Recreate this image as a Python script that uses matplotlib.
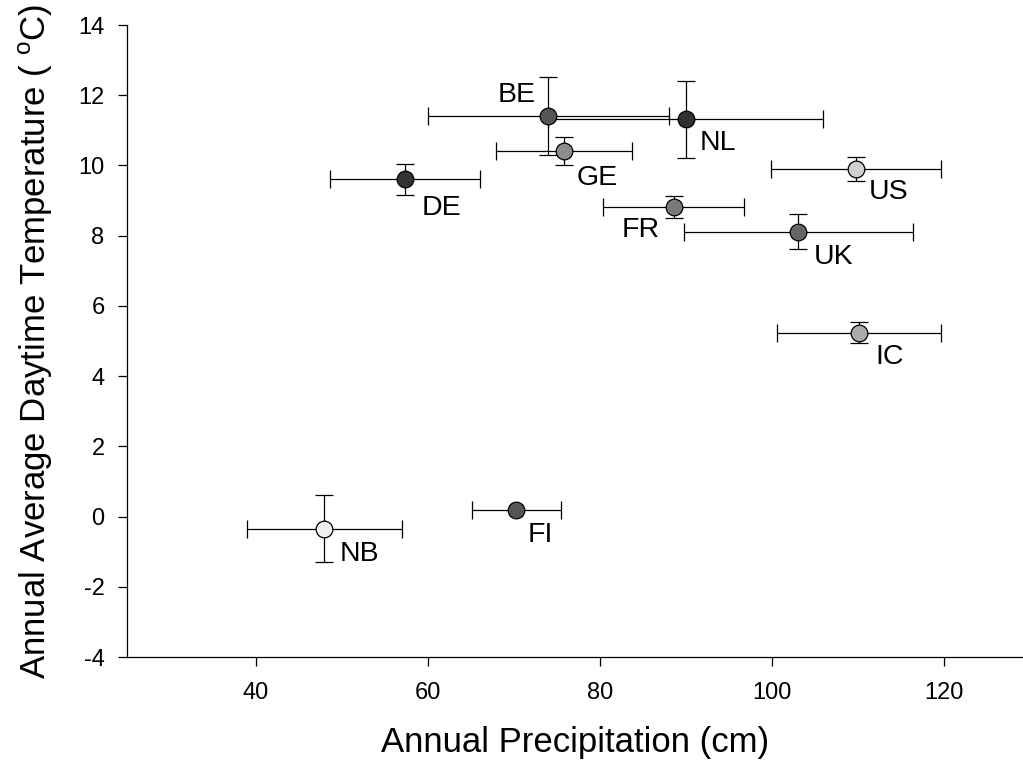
import matplotlib
matplotlib.use("Agg")
import matplotlib.pyplot as plt

plt.rcParams['font.family'] = ['Liberation Sans', 'DejaVu Sans']
plt.rcParams['mathtext.fontset'] = 'custom'
plt.rcParams['mathtext.rm'] = 'Liberation Sans'
plt.rcParams['axes.unicode_minus'] = False

countries = ["NB", "FI", "DE", "BE", "NL", "GE", "FR", "US", "UK", "IC"]
precip = [48.0, 70.3, 57.4, 74.0, 90.0, 75.9, 88.6, 109.8, 103.1, 110.1]
precip_err = [9.0, 5.2, 8.7, 14.0, 16.0, 7.9, 8.2, 9.85, 13.3, 9.55]
temp = [-0.35, 0.19, 9.61, 11.41, 11.31, 10.42, 8.81, 9.89, 8.11, 5.23]
temp_err = [0.95, 0.0, 0.44, 1.1, 1.1, 0.4, 0.31, 0.34, 0.5, 0.3]
colors = ["#f0f0f0", "#555555", "#333333", "#555555", "#303030",
          "#8c8c8c", "#7a7a7a", "#d0d0d0", "#666666", "#aaaaaa"]
# label offsets (points) and horizontal alignment
offsets = [(11, -18), (8, -18), (12, -21), (-9, 15), (10, -17),
           (9, -19.5), (-10, -16.5), (9, -16.5), (11, -18), (12, -17)]
aligns = ["left", "left", "left", "right", "left",
          "left", "right", "left", "left", "left"]

xticks = [40, 60, 80, 100, 120]
yticks = [-4, -2, 0, 2, 4, 6, 8, 10, 12, 14]

fig = plt.figure(figsize=(10.23, 7.70), dpi=100)
ax = fig.add_axes([126.5 / 1023, 1 - 657 / 770, 1 - 126.5 / 1023, (657 - 25) / 770])

for i in range(len(countries)):
    ax.errorbar(precip[i], temp[i], xerr=precip_err[i],
                yerr=temp_err[i] if temp_err[i] > 0 else None,
                fmt='o', color='black', ecolor='black', elinewidth=0.9,
                capsize=6.5, capthick=0.9, markersize=12,
                markerfacecolor=colors[i], markeredgecolor='black',
                markeredgewidth=0.9, zorder=3)
    ax.annotate(countries[i], (precip[i], temp[i]), xytext=offsets[i],
                textcoords='offset points', ha=aligns[i], va='center',
                fontsize=20.5)

ax.set_xlim(25, 129.2)
ax.set_ylim(-4, 14)
ax.set_xticks(xticks)
ax.set_yticks(yticks)
ax.spines['top'].set_visible(False)
ax.spines['right'].set_visible(False)
for s in ['left', 'bottom']:
    ax.spines[s].set_linewidth(0.9)
ax.tick_params(direction='out', length=6.8, width=0.9, labelsize=17)
ax.tick_params(axis='y', pad=9)
ax.tick_params(axis='x', pad=11)
ax.set_xlabel("Annual Precipitation (cm)", fontsize=25, labelpad=16)
ax.set_ylabel(r"Annual Average Daytime Temperature ( $^{\mathrm{o}}$C)", fontsize=25, labelpad=17)

fig.savefig("out.png", dpi=100)
